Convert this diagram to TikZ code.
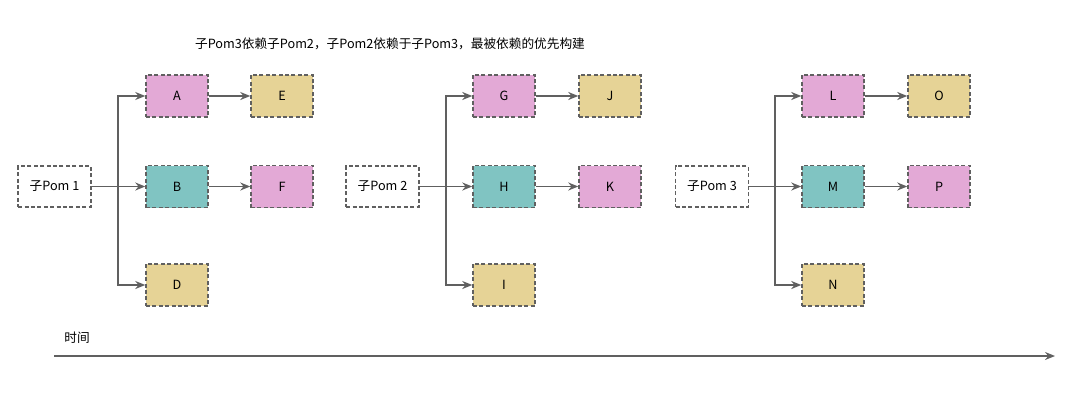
\documentclass[tikz,border=0pt]{standalone}
\usepackage{fontspec}
\setmainfont{Noto Sans CJK SC}
\usetikzlibrary{arrows.meta,calc}

\definecolor{boxpink}{HTML}{E3A9D6}
\definecolor{boxteal}{HTML}{80C4C2}
\definecolor{boxtan}{HTML}{E6D396}
\definecolor{lineg}{HTML}{606060}

\tikzset{
  pom/.style={draw=lineg, dash pattern=on 3pt off 1.8pt, line width=1.1pt, fill=white,
    minimum width=54.5pt, minimum height=30.5pt, inner sep=0pt,
    font=\fontsize{9.5}{11}\selectfont},
  mod/.style={draw=lineg, dash pattern=on 3pt off 1.8pt, line width=1.1pt,
    minimum width=46.5pt, minimum height=31.5pt, inner sep=0pt,
    font=\fontsize{9.5}{11}\selectfont},
  arr/.style={draw=lineg, line width=1.4pt, -{Stealth[length=7.5pt,width=6pt]}},
}

\begin{document}
\begin{tikzpicture}[x=0.75pt,y=-0.75pt]

  \useasboundingbox (0,0) rectangle (1080,403);

  % Title
  \node[font=\fontsize{9.5}{11}\selectfont] (title) at (390,44)
    {子Pom3依赖子Pom2，子Pom2依赖于子Pom3，最被依赖的优先构建};

  % First group
  \node[pom] (pom1) at (54.5,186.5) {子Pom 1};
  \node[mod, fill=boxpink] (A) at (177,96) {A};
  \node[mod, fill=boxtan]  (E) at (282,96) {E};
  \node[mod, fill=boxteal] (B) at (177,186.5) {B};
  \node[mod, fill=boxpink] (F) at (282,186.5) {F};
  \node[mod, fill=boxtan]  (D) at (177,285) {D};

  \coordinate (j1) at ($(pom1.east)!0.5!(B.west)$);
  \draw[arr] (pom1) -- (B);
  \draw[arr] (j1) |- (A);
  \draw[arr] (j1) |- (D);
  \draw[arr] (A) -- (E);
  \draw[arr] (B) -- (F);

  % Second group
  \node[pom] (pom2) at (382.5,186.5) {子Pom 2};
  \node[mod, fill=boxpink] (G) at (504,96) {G};
  \node[mod, fill=boxtan]  (J) at (610,96) {J};
  \node[mod, fill=boxteal] (H) at (504,186.5) {H};
  \node[mod, fill=boxpink] (K) at (610,186.5) {K};
  \node[mod, fill=boxtan]  (I) at (504,285) {I};

  \coordinate (j2) at ($(pom2.east)!0.5!(H.west)$);
  \draw[arr] (pom2) -- (H);
  \draw[arr] (j2) |- (G);
  \draw[arr] (j2) |- (I);
  \draw[arr] (G) -- (J);
  \draw[arr] (H) -- (K);

  % Third group
  \node[pom] (pom3) at (712,186.5) {子Pom 3};
  \node[mod, fill=boxpink] (L) at (833,96) {L};
  \node[mod, fill=boxtan]  (O) at (939,96) {O};
  \node[mod, fill=boxteal] (M) at (833,186.5) {M};
  \node[mod, fill=boxpink] (P) at (939,186.5) {P};
  \node[mod, fill=boxtan]  (N) at (833,285) {N};

  \coordinate (j3) at ($(pom3.east)!0.5!(M.west)$);
  \draw[arr] (pom3) -- (M);
  \draw[arr] (j3) |- (L);
  \draw[arr] (j3) |- (N);
  \draw[arr] (L) -- (O);
  \draw[arr] (M) -- (P);

  % Time axis
  \node[font=\fontsize{9.5}{11}\selectfont] (time) at (77,338) {时间};
  \coordinate (t0) at (54,356);
  \coordinate (t1) at (1055,356);
  \draw[arr] (t0) -- (t1);

\end{tikzpicture}
\end{document}
